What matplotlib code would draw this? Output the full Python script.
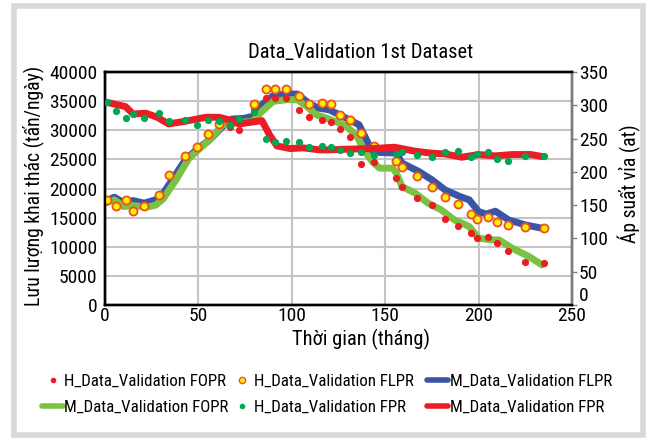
import matplotlib
matplotlib.use("Agg")
import matplotlib.pyplot as plt
from matplotlib import font_manager as fm
from matplotlib.patches import Rectangle
from matplotlib.lines import Line2D

# pick a condensed sans font if one is installed
_cands = []
for f in fm.fontManager.ttflist:
    key = (f.name + ' ' + f.fname).lower()
    if ('narrow' in key or 'condensed' in key) and f.style == 'normal' \
            and f.weight in (400, 'normal', 'regular') and 'mono' not in key \
            and 'serif' not in f.name.lower() and 'bold' not in key and 'light' not in key:
        _cands.append(f)
_pref = ['Liberation Sans Narrow', 'Roboto Condensed', 'Open Sans Condensed',
         'Noto Sans Condensed', 'DejaVu Sans']
_chosen = None
for p in _pref:
    for f in _cands:
        if f.name == p:
            _chosen = f
            break
    if _chosen:
        break
if _chosen is None and _cands:
    _chosen = _cands[0]
if _chosen is not None:
    plt.rcParams['font.family'] = [_chosen.name, 'DejaVu Sans']
    plt.rcParams['font.stretch'] = _chosen.stretch
else:
    plt.rcParams['font.family'] = ['Roboto', 'DejaVu Sans']

# ---------------- data ----------------
t_hist = [1, 6, 11, 15, 21, 29, 34, 43, 49, 55, 61, 67, 72, 80, 86, 91, 97, 104,
          109, 116, 121, 126, 131, 137, 144, 156, 159, 167, 175, 182, 189, 196,
          199, 205, 210, 216, 225, 235]
h_fopr = [18030, 17050, 18030, 16190, 17080, 18900, 22330, 25650, 27200, 29300,
          30900, 30500, 30050, 33480, 35490, 35500, 35490, 33400, 32230, 31760,
          31500, 30170, 28790, 24210, 24610, 21800, 20310, 18320, 17170, 14770,
          13620, 12310, 11450, 11730, 10590, 9320, 7430, 7160]
h_flpr = [18030, 17050, 18030, 16190, 17080, 18900, 22330, 25650, 27200, 29300,
          31030, 31300, 31500, 34510, 37150, 37030, 37000, 35800, 34500, 34700,
          34510, 32620, 31760, 29500, 27350, 24780, 23750, 22200, 20310, 18600,
          17340, 15620, 14710, 15160, 14300, 13740, 13440, 13170]
h_fpr = [305, 291, 281, 287, 281, 289, 277, 278, 271, 278, 276, 271, 280, 290,
         250, 245, 247, 245, 238, 239, 238, 233, 228, 230, 225, 227, 230, 225,
         222, 230, 232, 222, 227, 230, 220, 217, 224, 224]

t_flpr = [0, 5, 10, 15, 21, 27, 30, 36, 43, 50, 56, 63, 68, 74, 79, 84, 90, 97,
          103, 109, 114, 120, 129, 136, 140, 143, 147, 156, 159, 168, 175, 182,
          190, 195, 200, 204, 209, 216, 225, 234]
m_flpr = [17760, 18500, 17590, 17930, 17480, 18050, 18620, 21490, 24930, 26930,
          28360, 30650, 31920, 32030, 32370, 34380, 35930, 36210, 36210, 34670,
          33810, 33520, 32090, 30940, 28360, 26360, 26190, 26070, 24350, 22920,
          21490, 19770, 18620, 18050, 16040, 15600, 16100, 14610, 13750, 13180]

t_fopr = [0, 5, 10, 15, 22, 27, 31, 38, 45, 51, 56, 63, 72, 79, 84, 90, 97, 103,
          108, 113, 120, 129, 135, 138.5, 143, 147, 154, 156, 159, 166, 173, 180,
          187, 195, 200, 207, 211, 218, 227, 234]
m_fopr = [17480, 18050, 16900, 17080, 16790, 17130, 18160, 21490, 25210, 26930,
          28360, 30940, 31340, 31520, 33230, 34950, 35240, 35240, 34090, 32660,
          31920, 30770, 28940, 26640, 24640, 23490, 23490, 22630, 20340, 19200,
          17480, 16330, 14610, 13470, 11460, 11170, 11170, 9740, 8310, 6880]

t_fpr = [0, 11, 15, 22, 28, 34, 43, 54, 61, 68, 72, 84, 88, 92, 99, 106, 115,
         120, 129, 143, 155, 166, 175, 182, 191, 200, 209, 218, 228, 234]
m_fpr = [305, 298, 287, 288, 282, 272, 276, 282, 282, 277, 272, 277, 256, 239,
         235, 236, 233, 233, 234, 235, 237, 231, 228, 227, 222, 226, 224, 226,
         226, 223]

x_ticks = [0, 50, 100, 150, 200, 250]
yl_ticks = [0, 5000, 10000, 15000, 20000, 25000, 30000, 35000, 40000]
yr_ticks = [0, 50, 100, 150, 200, 250, 300, 350]

TITLE = 'Data_Validation 1st Dataset'
XLABEL = 'Thời gian (tháng)'
YLABEL_L = 'Lưu lượng khai thác (tấn/ngày)'
YLABEL_R = 'Áp suất vỉa (at)'
LEG = ['H_Data_Validation FOPR', 'M_Data_Validation FOPR',
       'H_Data_Validation FLPR', 'H_Data_Validation FPR',
       'M_Data_Validation FLPR', 'M_Data_Validation FPR']

# ---------------- colours ----------------
C_RED = '#ec1c24'
C_BLUE = '#3b55a5'
C_GLINE = '#7cc242'
C_GDOT = '#00a651'
C_YEL = '#fff200'

W, H = 649, 438
fig = plt.figure(figsize=(W / 100, H / 100), dpi=100)
renderer = fig.canvas.get_renderer()


def text_size(s, size):
    t = fig.text(0, 0, s, fontsize=size)
    bb = t.get_window_extent(renderer)
    t.remove()
    return bb.width, bb.height


def fit(s, target_px):
    w, _ = text_size(s, 10)
    return 10 * target_px / w


fs_tick = fit('40000', 47.5)
fs_title = fit(TITLE, 223)
fs_xl = fit(XLABEL, 137)
fs_yl = fit(YLABEL_L, 240)
fs_yr = fit(YLABEL_R, 118)
fs_leg = fit(LEG[0], 162)

fig.patches.append(Rectangle((13.5 / W, 3 / H), (643 - 13.5) / W, (432 - 3) / H,
                             transform=fig.transFigure, fill=False,
                             edgecolor='#d9d9d9', linewidth=4))

ax = fig.add_axes([105 / W, (H - 305) / H, (572 - 105) / W, (305 - 72) / H])
ax2 = ax.twinx()

lw = 5.0
ms = 5.2
ax.plot(t_flpr, m_flpr, color=C_BLUE, lw=lw, solid_capstyle='round',
        solid_joinstyle='round', zorder=2)
ax.plot(t_fopr, m_fopr, color=C_GLINE, lw=lw, solid_capstyle='round',
        solid_joinstyle='round', zorder=3)
ax.plot(t_hist, h_fopr, 'o', color=C_RED, ms=ms, mec=C_RED, mew=0, zorder=4)
ax.plot(t_hist, h_flpr, 'o', color=C_YEL, ms=ms + 0.6, mec='#f04e23', mew=1.3,
        zorder=5)
ax2.plot(t_fpr, m_fpr, color=C_RED, lw=lw, solid_capstyle='round',
         solid_joinstyle='round', zorder=2)
ax2.plot(t_hist, h_fpr, 'o', color=C_GDOT, ms=ms, mew=0, zorder=3)

ax.set_xlim(0, 250)
ax.set_ylim(0, 40000)
ax2.set_ylim(0, 350)
ax.set_xticks(x_ticks)
ax.set_yticks(yl_ticks)
ax2.set_yticks(yr_ticks)
ax.grid(True, color='#c4c4c4', lw=1.5)
ax.set_axisbelow(True)

ax.tick_params(axis='both', labelsize=fs_tick, length=0, pad=5.5)
ax.tick_params(axis='x', pad=1.5)
ax2.tick_params(axis='y', labelsize=fs_tick, length=3.5, width=1, pad=1.5,
                direction='out', color='#808080')
for a in (ax, ax2):
    for s in a.spines.values():
        s.set_linewidth(1.7)
        s.set_color('black')
ax2.spines['right'].set_color('#808080')
ax2.spines['right'].set_linewidth(1.4)
# lowest right-hand label sits just above its tick, as in the reference
ax2.yaxis.get_major_ticks()[0].label2.set_va('bottom')

AXW, AXH = 572 - 105, 305 - 72
ax.set_title(TITLE, fontsize=fs_title, pad=0, x=(361 - 105) / AXW,
             y=(305 - 58) / AXH)
ax.set_xlabel(XLABEL, fontsize=fs_xl)
ax.xaxis.set_label_coords((361 - 105) / AXW, (305 - 329) / AXH)
ax.set_ylabel(YLABEL_L, fontsize=fs_yl)
ax.yaxis.set_label_coords((44 - 105) / AXW, (305 - 186) / AXH)
ax2.set_ylabel(YLABEL_R, fontsize=fs_yr)
ax2.yaxis.set_label_coords((618 - 105) / AXW, (305 - 184) / AXH)

# legend: three columns, each placed at the reference's position
h1 = Line2D([], [], ls='none', marker='o', color=C_RED, ms=4, mew=0)
h2 = Line2D([], [], ls='none', marker='o', color=C_YEL, ms=4.5, mec='#f04e23', mew=1)
h3 = Line2D([], [], color=C_BLUE, lw=4, solid_capstyle='round')
h4 = Line2D([], [], color=C_GLINE, lw=4, solid_capstyle='round')
h5 = Line2D([], [], ls='none', marker='o', color=C_GDOT, ms=4, mew=0)
h6 = Line2D([], [], color=C_RED, lw=4, solid_capstyle='round')
fs_leg_px = fs_leg * 100 / 72
_, th = text_size(LEG[0], fs_leg)
row_gap = 26
cols = [([h1, h4], [LEG[0], LEG[1]], 42),
        ([h2, h5], [LEG[2], LEG[3]], 231),
        ([h3, h6], [LEG[4], LEG[5]], 427)]
for hs, ls_, x0 in cols:
    fig.legend(hs, ls_, loc='upper left',
               bbox_to_anchor=(x0 / W, (H - (381 - th / 2)) / H), frameon=False,
               fontsize=fs_leg, borderpad=0, borderaxespad=0,
               handlelength=21 / fs_leg_px, handletextpad=1.5 / fs_leg_px,
               labelspacing=max(0.0, (row_gap - th) / fs_leg_px))

fig.savefig('out.png', dpi=100)
